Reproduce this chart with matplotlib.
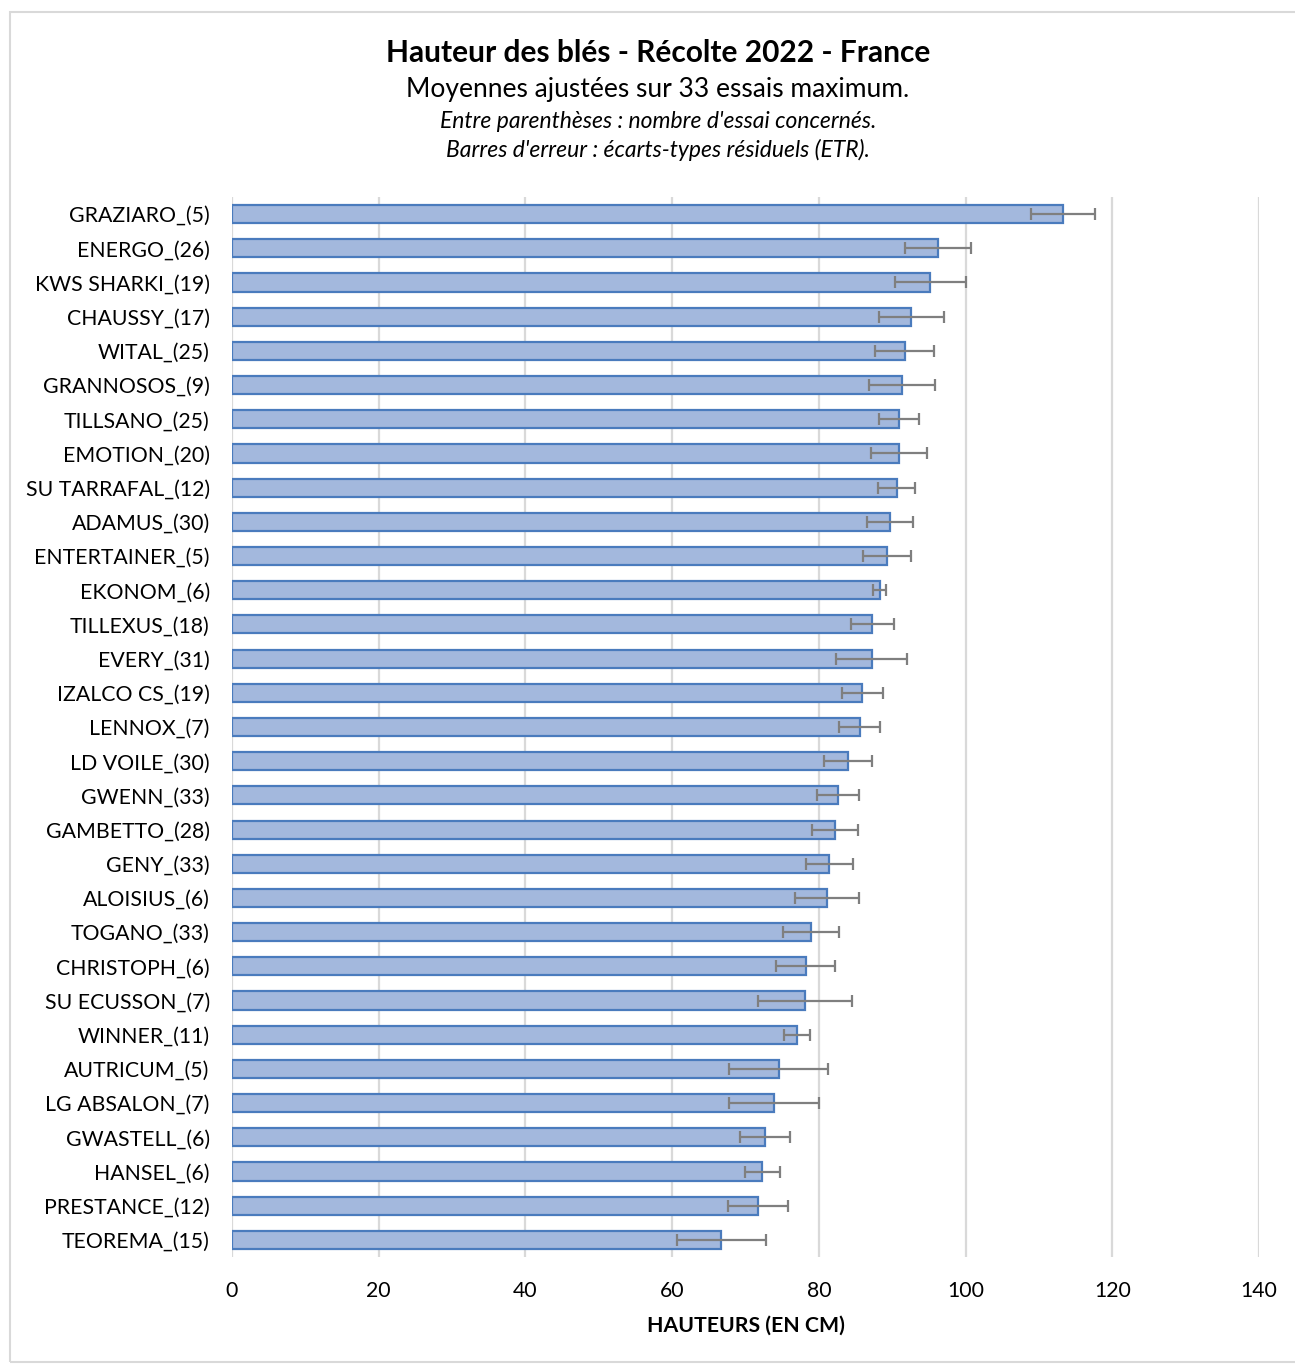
import matplotlib.pyplot as plt
from matplotlib.patches import Rectangle

plt.rcParams['font.family'] = ['Lato', 'DejaVu Sans']

varieties = ["GRAZIARO_(5)", "ENERGO_(26)", "KWS SHARKI_(19)", "CHAUSSY_(17)",
             "WITAL_(25)", "GRANNOSOS_(9)", "TILLSANO_(25)", "EMOTION_(20)",
             "SU TARRAFAL_(12)", "ADAMUS_(30)", "ENTERTAINER_(5)", "EKONOM_(6)",
             "TILLEXUS_(18)", "EVERY_(31)", "IZALCO CS_(19)", "LENNOX_(7)",
             "LD VOILE_(30)", "GWENN_(33)", "GAMBETTO_(28)", "GENY_(33)",
             "ALOISIUS_(6)", "TOGANO_(33)", "CHRISTOPH_(6)", "SU ECUSSON_(7)",
             "WINNER_(11)", "AUTRICUM_(5)", "LG ABSALON_(7)", "GWASTELL_(6)",
             "HANSEL_(6)", "PRESTANCE_(12)", "TEOREMA_(15)"]
heights = [113.3, 96.3, 95.2, 92.6, 91.7, 91.4, 90.9, 90.9, 90.6, 89.7, 89.3,
           88.3, 87.3, 87.2, 85.9, 85.6, 84.0, 82.6, 82.2, 81.4, 81.1, 78.9,
           78.2, 78.1, 77.0, 74.5, 73.9, 72.6, 72.3, 71.7, 66.7]
etr = [4.4, 4.5, 4.8, 4.4, 4.0, 4.5, 2.7, 3.8, 2.5, 3.2, 3.3, 0.9, 2.9, 4.8,
       2.8, 2.8, 3.3, 2.9, 3.2, 3.2, 4.4, 3.8, 4.0, 6.4, 1.8, 6.7, 6.1, 3.4,
       2.35, 4.1, 6.1]
xticks = [0, 20, 40, 60, 80, 100, 120, 140]

fig = plt.figure(figsize=(12.95, 13.64), dpi=100)
W, H = 1295, 1364
ax = fig.add_axes([232 / W, 1 - 1257 / H, (1259 - 232) / W, (1257 - 197) / H])

ypos = list(range(len(varieties)))
ax.barh(ypos, heights, height=0.53, color='#a3b8dd', edgecolor='#4a7bbd',
        linewidth=1.6, zorder=2)
ax.errorbar(heights, ypos, xerr=etr, fmt='none', ecolor='#7f7f7f',
            elinewidth=1.6, capsize=4.5, capthick=1.6, zorder=3)

ax.set_xlim(0, 140)
ax.set_ylim(len(varieties) - 0.5, -0.5)
ax.set_xticks(xticks)
ax.set_yticks(ypos)
ax.set_yticklabels(varieties, fontsize=15.3)
ax.tick_params(axis='x', labelsize=15.3, length=0, pad=17)
ax.tick_params(axis='y', length=0, pad=16)
ax.grid(axis='x', color='#d9d9d9', linewidth=1.6, zorder=0)
for s in ax.spines.values():
    s.set_visible(False)
ax.set_xlabel("HAUTEURS (EN CM)", fontsize=15.3, fontweight='bold', labelpad=11)

# titles
fig.text(658 / W, 1 - 53 / H, "Hauteur des blés - Récolte 2022 - France",
         ha='center', va='center', fontsize=21.5, fontweight='bold')
fig.text(658 / W, 1 - 90 / H, "Moyennes ajustées sur 33 essais maximum.",
         ha='center', va='center', fontsize=19)
fig.text(658 / W, 1 - 121 / H, "Entre parenthèses : nombre d'essai concernés.",
         ha='center', va='center', fontsize=16.5, style='italic')
fig.text(658 / W, 1 - 150 / H, "Barres d'erreur : écarts-types résiduels (ETR).",
         ha='center', va='center', fontsize=16.5, style='italic')

# chart border
fig.patches.append(Rectangle((10 / W, 2 / H), 1.0, 1 - 14 / H,
                             transform=fig.transFigure, fill=False,
                             edgecolor='#d9d9d9', linewidth=1.5))

fig.savefig('out.png', dpi=100)
